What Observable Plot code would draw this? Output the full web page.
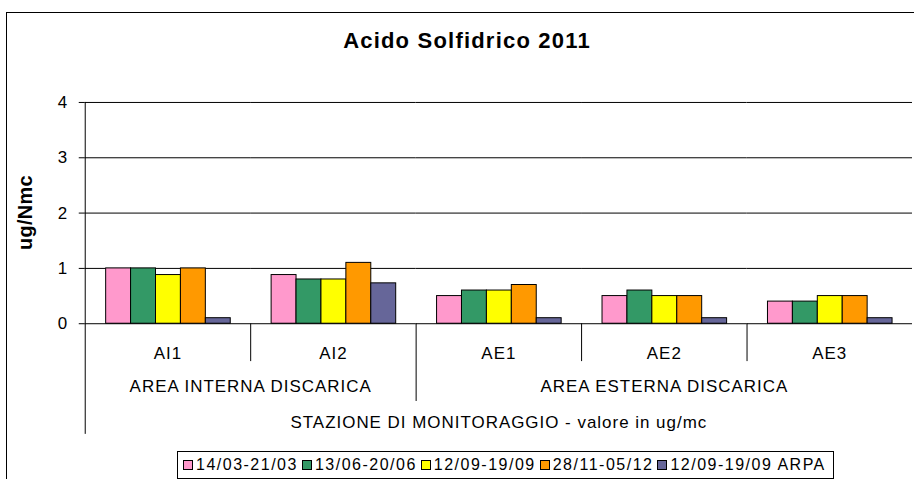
<!DOCTYPE html>
<html>
<head>
<meta charset="utf-8">
<script src="https://cdn.jsdelivr.net/npm/d3@7"></script>
<script src="https://cdn.jsdelivr.net/npm/@observablehq/plot@0.6"></script>
<style>
html, body { margin: 0; padding: 0; background: #fff; }
#wrap { position: relative; width: 914px; height: 479px; overflow: hidden; background: #fff;
  font-family: "Liberation Sans", Arial, sans-serif; color: #000; }
#border { position: absolute; left: 6px; top: 12px; width: 2000px; height: 2000px;
  border-left: 1px solid #000; border-top: 1px solid #000; }
#title { position: absolute; left: 0; top: 30px; width: 934px; text-align: center;
  font-size: 22px; font-weight: bold; line-height: 22px; letter-spacing: 1.2px; }
#chart { position: absolute; left: 0; top: 90px; }
#chart svg text { letter-spacing: 1px; }
#chart svg g[aria-label="y-axis tick label"] text { letter-spacing: 0; }
#legend { position: absolute; left: 177px; top: 451px; width: 650px; height: 26px;
  border: 1px solid #000; padding-left: 5px; display: flex; align-items: center;
  font-size: 16px; line-height: 26px; letter-spacing: 1.5px; white-space: nowrap; background: #fff; }
#legend .item { display: flex; align-items: center; margin-right: 4px; }
#legend .sw { width: 10px; height: 10px; border: 1px solid #000; box-sizing: border-box; margin-right: 3px; }
</style>
</head>
<body>
<div id="wrap">
  <div id="border"></div>
  <div id="title"></div>
  <div id="chart"></div>
  <div id="legend"></div>
</div>
<script>
const chartTitle = "Acido Solfidrico 2011";
const yLabel = "ug/Nmc";
const xTitle = "STAZIONE DI MONITORAGGIO - valore in ug/mc";
const stations = ["AI1", "AI2", "AE1", "AE2", "AE3"];
const groupNames = ["AREA INTERNA DISCARICA", "AREA ESTERNA DISCARICA"];
const groupMembers = [["AI1", "AI2"], ["AE1", "AE2", "AE3"]];
const series = ["14/03-21/03", "13/06-20/06", "12/09-19/09", "28/11-05/12", "12/09-19/09 ARPA"];
const colors = ["#FF99CC", "#339966", "#FFFF00", "#FF9900", "#666699"];
const yTicks = [0, 1, 2, 3, 4];

// values per series, in station order
const s1 = [1.0, 0.88, 0.5, 0.5, 0.4];   // 14/03-21/03
const s2 = [1.0, 0.8, 0.6, 0.6, 0.4];    // 13/06-20/06
const s3 = [0.88, 0.8, 0.6, 0.5, 0.5];   // 12/09-19/09
const s4 = [1.0, 1.1, 0.7, 0.5, 0.5];    // 28/11-05/12
const s5 = [0.1, 0.73, 0.1, 0.1, 0.1];   // 12/09-19/09 ARPA
const seriesValues = [s1, s2, s3, s4, s5];

const data = stations.flatMap((st, i) =>
  series.map((se, j) => ({ station: st, series: se, value: seriesValues[j][i] })));

document.getElementById("title").textContent = chartTitle;

const groupMarks = groupNames.map((g, i) => {
  const m = groupMembers[i];
  const even = m.length % 2 === 0;
  const anchorStation = m[Math.floor(m.length / 2)];
  return Plot.text([g], {
    fx: () => anchorStation, text: d => d,
    frameAnchor: even ? "bottom-left" : "bottom",
    textAnchor: "middle", lineAnchor: "middle", dy: 63, fontSize: 17, fill: "#000"
  });
});

const chart = Plot.plot({
  width: 917, height: 350,
  marginLeft: 83, marginRight: 0, marginTop: 12, marginBottom: 116,
  style: { fontFamily: "'Liberation Sans', Arial, sans-serif", fontSize: "17px", background: "transparent", overflow: "visible", color: "#000" },
  fx: { domain: stations, padding: 0, axis: null },
  x: { domain: series, paddingInner: 0, paddingOuter: 0.75, axis: null },
  y: { domain: [0, 4], axis: null },
  color: { domain: series, range: colors },
  marks: [
    Plot.ruleY(yTicks.filter(t => t > 0), { stroke: "#000", strokeWidth: 1 }),
    Plot.barY(data, { fx: "station", x: "series", y: "value", fill: "series", stroke: "#000", strokeWidth: 1 }),
    Plot.ruleY([0], { stroke: "#000", strokeWidth: 1 }),
    Plot.axisY({ ticks: yTicks, tickSize: 6, tickPadding: 12, fontSize: 17, label: null, tickFormat: d => String(d) }),
    Plot.axisFx({ anchor: "bottom", tickSize: 0, tickPadding: 23, fontSize: 17, label: null }),
    ...groupMarks,
    Plot.text([xTitle], {
      fx: () => stations[Math.floor(stations.length / 2)], text: d => d,
      frameAnchor: "bottom", textAnchor: "middle", lineAnchor: "middle", dy: 99, fontSize: 17, fill: "#000"
    })
  ]
});

document.getElementById("chart").appendChild(chart);

// hierarchical axis separators and y-axis line, positioned with the plot's own scales
const fx = chart.scale("fx");
const y = chart.scale("y");
const svg = d3.select(chart);
const g = svg.append("g").attr("stroke", "#000").attr("stroke-width", 1);
const crisp = v => Math.round(v) + 0.5;
const y0 = y.apply(0), yTop = y.apply(4);
const x0 = fx.apply(stations[0]);
g.append("line").attr("x1", crisp(x0)).attr("x2", crisp(x0))
  .attr("y1", yTop).attr("y2", y0 + 111);
const groupStarts = new Set(groupMembers.slice(1).map(m => m[0]));
stations.slice(1).forEach(st => {
  const xv = crisp(fx.apply(st));
  g.append("line").attr("x1", xv).attr("x2", xv)
    .attr("y1", y0).attr("y2", y0 + (groupStarts.has(st) ? 78 : 38));
});
svg.append("text")
  .attr("transform", `translate(32, ${(y0 + yTop) / 2}) rotate(-90)`)
  .attr("text-anchor", "middle")
  .attr("font-weight", "bold").attr("font-size", 20).attr("fill", "#000")
  .style("letter-spacing", "0.3px")
  .text(yLabel);

// legend
const legend = d3.select("#legend");
series.forEach((s, i) => {
  const item = legend.append("span").attr("class", "item");
  item.append("span").attr("class", "sw").style("background", colors[i]);
  item.append("span").text(s);
});
</script>
</body>
</html>
